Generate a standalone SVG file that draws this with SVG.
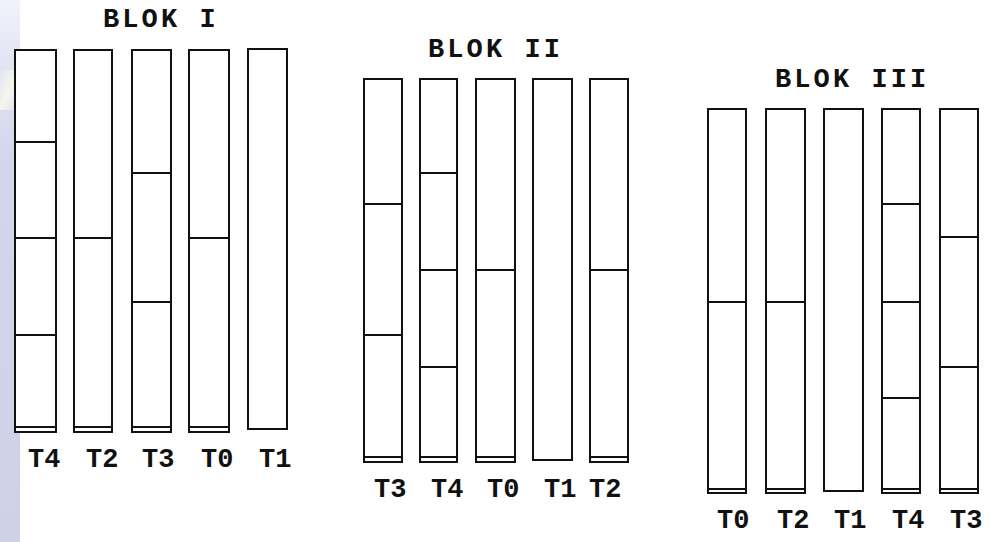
<svg xmlns="http://www.w3.org/2000/svg" width="992" height="542" viewBox="0 0 992 542">
<defs>
<linearGradient id="strip" x1="0" y1="0" x2="0" y2="1">
<stop offset="0" stop-color="#f1f2fa"/>
<stop offset="0.12" stop-color="#e2e4f2"/>
<stop offset="0.3" stop-color="#d3d5ec"/>
<stop offset="1" stop-color="#cfd1e9"/>
</linearGradient>
<linearGradient id="streak" x1="0" y1="0" x2="1" y2="1">
<stop offset="0" stop-color="#ffffff" stop-opacity="0"/>
<stop offset="0.5" stop-color="#fbfbe8" stop-opacity="0.8"/>
<stop offset="1" stop-color="#ffffff" stop-opacity="0"/>
</linearGradient>
</defs>
<style>
.tube{fill:#ffffff;stroke:#111;stroke-width:2}
.div{stroke:#111;stroke-width:2;fill:none}
.title,.lbl{font-family:"Liberation Mono","DejaVu Sans Mono",monospace;font-weight:bold;fill:#111}
.title{font-size:27px;letter-spacing:3.1px}
.lbl{font-size:27px}
</style>
<rect width="992" height="542" fill="#ffffff"/>
<rect x="0" y="0" width="20" height="542" fill="url(#strip)"/>
<rect x="0" y="70" width="20" height="40" fill="url(#streak)"/>

<g id="block1">
<text class="title" x="103" y="27">BLOK I</text>
<g id="b1-T4"><rect class="tube" x="15" y="50" width="41" height="382"/><path class="div" d="M15 142H56M15 238H56M15 335H56M15 427H56"/></g>
<g id="b1-T2"><rect class="tube" x="74" y="50" width="38" height="382"/><path class="div" d="M74 238H112M74 427H112"/></g>
<g id="b1-T3"><rect class="tube" x="132" y="50" width="39" height="382"/><path class="div" d="M132 173H171M132 302H171M132 427H171"/></g>
<g id="b1-T0"><rect class="tube" x="189" y="50" width="40" height="382"/><path class="div" d="M189 238H229M189 427H229"/></g>
<g id="b1-T1"><rect class="tube" x="248" y="49" width="39" height="380"/></g>
<text class="lbl" x="28" y="467">T4</text>
<text class="lbl" x="86" y="467">T2</text>
<text class="lbl" x="142" y="467">T3</text>
<text class="lbl" x="201" y="467">T0</text>
<text class="lbl" x="259" y="467">T1</text>
</g>

<g id="block2">
<text class="title" x="428" y="57">BLOK II</text>
<g id="b2-T3"><rect class="tube" x="364" y="79" width="38" height="383"/><path class="div" d="M364 204H402M364 335H402M364 457H402"/></g>
<g id="b2-T4"><rect class="tube" x="420" y="79" width="37" height="383"/><path class="div" d="M420 173H457M420 270H457M420 367H457M420 457H457"/></g>
<g id="b2-T0"><rect class="tube" x="476" y="79" width="39" height="383"/><path class="div" d="M476 270H515M476 457H515"/></g>
<g id="b2-T1"><rect class="tube" x="533" y="79" width="39" height="381"/></g>
<g id="b2-T2"><rect class="tube" x="590" y="79" width="38" height="383"/><path class="div" d="M590 270H628M590 457H628"/></g>
<text class="lbl" x="374" y="497">T3</text>
<text class="lbl" x="431" y="497">T4</text>
<text class="lbl" x="487" y="497">T0</text>
<text class="lbl" x="544" y="497">T1</text>
<text class="lbl" x="589" y="497">T2</text>
</g>

<g id="block3">
<text class="title" x="775" y="87">BLOK III</text>
<g id="b3-T0"><rect class="tube" x="708" y="109" width="38" height="384"/><path class="div" d="M708 302H746M708 489H746"/></g>
<g id="b3-T2"><rect class="tube" x="766" y="109" width="39" height="384"/><path class="div" d="M766 302H805M766 489H805"/></g>
<g id="b3-T1"><rect class="tube" x="824" y="109" width="39" height="382"/></g>
<g id="b3-T4"><rect class="tube" x="882" y="109" width="38" height="384"/><path class="div" d="M882 204H920M882 302H920M882 398H920M882 489H920"/></g>
<g id="b3-T3"><rect class="tube" x="940" y="109" width="38" height="384"/><path class="div" d="M940 237H978M940 367H978M940 489H978"/></g>
<text class="lbl" x="717" y="528">T0</text>
<text class="lbl" x="777" y="528">T2</text>
<text class="lbl" x="834" y="528">T1</text>
<text class="lbl" x="892" y="528">T4</text>
<text class="lbl" x="950" y="528">T3</text>
</g>
<g id="connectors"/>
</svg>
